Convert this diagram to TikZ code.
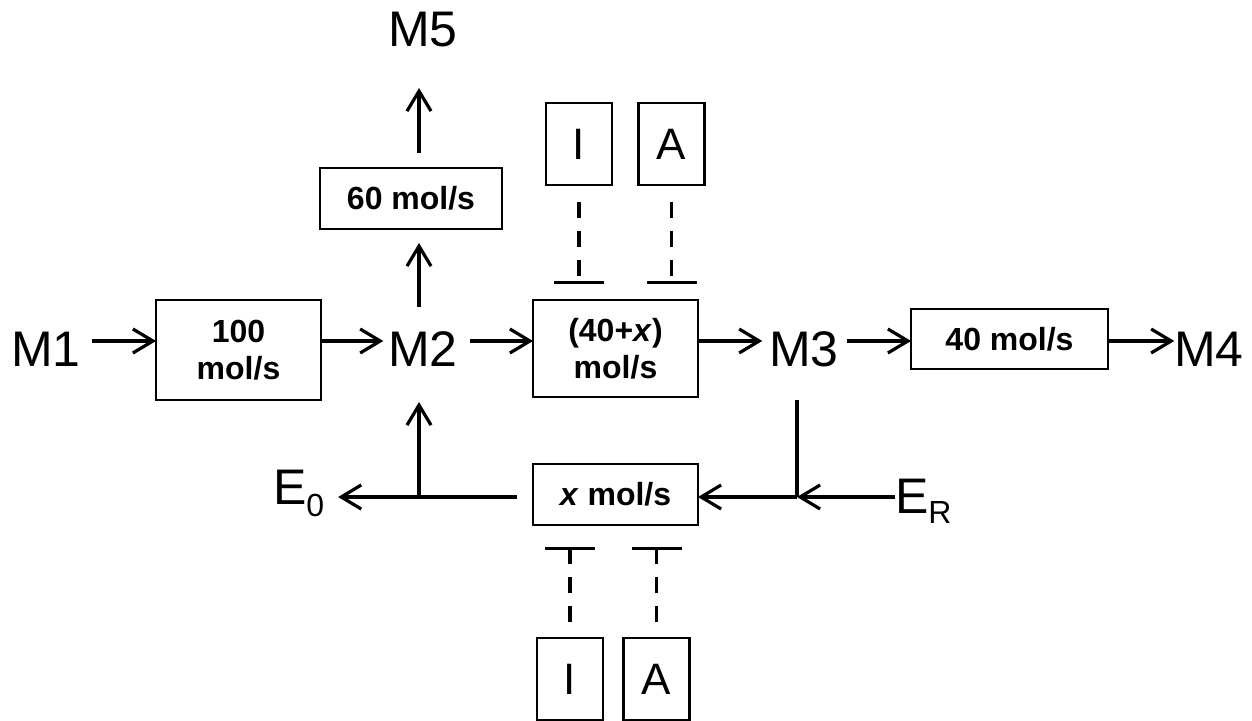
\documentclass[tikz,border=0pt]{standalone}
\usepackage{fontspec}
\setmainfont{Liberation Sans}
\usetikzlibrary{arrows,arrows.meta}

\begin{document}
\begin{tikzpicture}[
x=0.5pt, y=-0.5pt,
lbl/.style={font=\fontsize{25}{30}\selectfont, inner sep=0pt, outer sep=0pt, text height=25pt, text depth=0pt},
elbl/.style={font=\fontsize{25}{30}\selectfont, inner sep=0pt, outer sep=0pt, anchor=base west},
rate/.style={draw, line width=1.1pt, font=\bfseries\fontsize{16}{18.5}\selectfont, align=center, inner sep=0pt, outer sep=0pt},
ctrl/.style={draw, line width=1.1pt, font=\fontsize{22}{26}\selectfont, inner sep=0pt, outer sep=0pt, minimum width=33pt, minimum height=41pt},
arrow/.style={-{Straight Barb[length=10pt,width=12pt]}, line width=1.6pt},
pipe/.style={line width=1.6pt},
inhib/.style={-{Bar[width=25pt]}, line width=1.6pt, dash pattern=on 8pt off 6.5pt} ]

\useasboundingbox (0,0) rectangle (1252,721);

\node[lbl] (M1) at (46,341) {M1};

\node[lbl] (M2) at (423,341) {M2};

\node[lbl] (M3) at (804,341) {M3};

\node[lbl] (M4) at (1209,341) {M4};

\node[lbl] (M5) at (423,22) {M5};

\node[rate, minimum width=82.5pt, minimum height=50pt] (r100) at (238.5,350) {100\\mol/s};

\node[rate, minimum width=91pt, minimum height=30.5pt] (r60) at (411,198.5) {60 mol/s};

\node[rate, minimum width=82.5pt, minimum height=48.5pt] (r40x) at (615.5,348.5) {(40+\textit{x})\\mol/s};

\node[rate, minimum width=98.5pt, minimum height=30pt] (r40) at (1009.5,339) {40 mol/s};

\node[rate, minimum width=82.5pt, minimum height=30.5pt] (rx) at (615.5,494.5) {\textit{x} mol/s};

\node[ctrl] (I1) at (579,144) {I};

\node[ctrl] (A1) at (671.5,144) {A};

\node[ctrl] (I2) at (570,679) {I};

\node[ctrl] (A2) at (656.5,679) {A};

\node[elbl] (E0) at (273,504) {E\raisebox{-6pt}{\fontsize{16}{16}\selectfont 0}};

\node[elbl] (ER) at (895,513) {E\raisebox{-5pt}{\fontsize{16}{16}\selectfont R}};

\coordinate (jL) at (419,497);

\coordinate (jR) at (797,497);

\draw[arrow, shorten <=5.5pt] (M1) -- (M1 -| r100.west);

\draw[arrow, shorten >=2.5pt] (M2 -| r100.east) -- (M2);

\draw[arrow, shorten <=6pt] (M2) -- (M2 -| r40x.west);

\draw[arrow, shorten >=3.5pt] (M3 -| r40x.east) -- (M3);

\draw[arrow, shorten <=4pt] (M3) -- (M3 -| r40.west);

\draw[arrow] (M4 -| r40.east) -- (M4);

\draw[arrow, shorten <=4.5pt, shorten >=7pt] (jL |- M2.north) -- (jL |- r60.south);

\draw[arrow, shorten <=7.5pt, shorten >=20.5pt] (jL |- r60.north) -- (jL |- M5.south);

\draw[arrow, shorten >=18pt] (jL) -- (jL |- M2.south);

\draw[pipe, shorten <=8pt] (rx.west |- jL) -- (jL);

\draw[arrow, shorten >=7pt] (jL) -- (jL -| E0.east);

\draw[pipe, shorten <=17pt] (jR |- M3.south) -- (jR);

\draw[arrow] (jR -| ER.west) -- (jR);

\draw[arrow] (jR) -- (jR -| rx.east);

\draw[inhib, shorten <=8.5pt, shorten >=8pt] (I1) -- (I1 |- r40x.north);

\draw[inhib, shorten <=8.5pt, shorten >=8pt] (A1) -- (A1 |- r40x.north);

\draw[inhib, shorten <=8pt, shorten >=11pt] (I2) -- (I2 |- rx.south);

\draw[inhib, shorten <=8pt, shorten >=11pt] (A2) -- (A2 |- rx.south);

\end{tikzpicture}
\end{document}
